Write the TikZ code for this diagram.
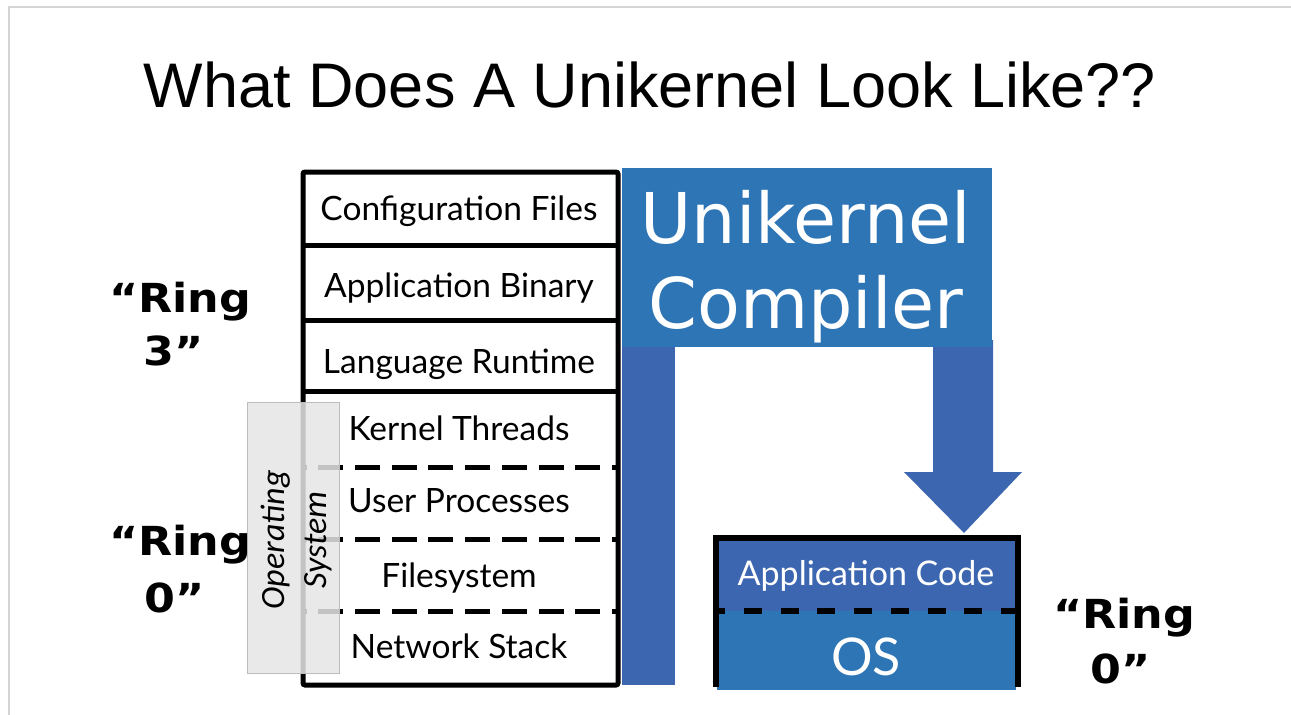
\documentclass[tikz,border=0pt]{standalone}
\usepackage{fontspec}
\setmainfont{Liberation Sans}
\newfontfamily\layerfont{Lato}
\newfontfamily\osfont{Carlito}
\newfontfamily\djv{DejaVu Sans}
\newfontfamily\ringfont[FakeStretch=1.11]{DejaVu Sans}
\definecolor{compblue}{HTML}{2E75B6}
\definecolor{barblue}{HTML}{3D66B0}
\definecolor{slideline}{HTML}{D4D4D4}
\definecolor{osgray}{HTML}{E6E6E6}
\definecolor{osedge}{HTML}{BDBDBD}

\tikzset{
  layer/.style={font=\layerfont\fontsize{33.5}{40}\selectfont, anchor=base, inner sep=0pt},
  ringtxt/.style={font=\ringfont\bfseries\fontsize{40}{48}\selectfont, anchor=base, inner sep=0pt},
  bigwhite/.style={font=\djv\fontsize{70}{84}\selectfont, text=white, anchor=base, inner sep=0pt},
  ostxt/.style={font=\osfont\itshape\fontsize{34}{40}\selectfont, rotate=90, anchor=base, inner sep=0pt},
  solidrule/.style={line width=5pt},
  dashrule/.style={line width=5pt, dash pattern=on 25pt off 11.7pt, dash phase=21.4pt},
}

\begin{document}
\begin{tikzpicture}[x=1pt,y=-1pt]
\useasboundingbox (0,0) rectangle (1291,715);
\fill[white] (0,0) rectangle (1291,715);

% slide frame
\draw[slideline, line width=1.5pt] (9,715) -- (9,7) -- (1291,7);

% title
\node[font=\fontsize{63}{75}\selectfont, anchor=base, inner sep=0pt] (title) at (650,107)
  {What Does A Unikernel Look Like??};

% compiler: input bar, box and output arrow
\fill[barblue] (622,340) rectangle (675,685);
\fill[barblue] (933,340) -- (993,340) -- (993,472) -- (1022,472) -- (964,533)
  -- (904,472) -- (933,472) -- cycle;
\fill[compblue] (622,168) rectangle (992,347);
\node[bigwhite] (unik) at (806,243) {Unikernel};
\node[bigwhite] (comp) at (806,328) {Compiler};

% traditional software stack
\fill[white] (303,172) rectangle (618,685);
\draw[dashrule] (303,467) -- (618,467);
\draw[dashrule] (303,539) -- (618,539);
\draw[dashrule] (303,611) -- (618,611);
\draw[solidrule] (303,245) -- (618,245);
\draw[solidrule] (303,320) -- (618,320);
\draw[solidrule] (303,391) -- (618,391);
\draw[solidrule, rounded corners=2pt] (303,172) rectangle (618,685);

\node[layer] (cfg) at (459,220) {Configuration Files};
\node[layer] (bin) at (459,297) {Application Binary};
\node[layer] (rt)  at (459,373) {Language Runtime};
\node[layer] (kt)  at (459,440) {Kernel Threads};
\node[layer] (up)  at (459,512) {User Processes};
\node[layer] (fs)  at (459,587) {Filesystem};
\node[layer] (ns)  at (459,658) {Network Stack};

% operating system bracket
\fill[osgray, fill opacity=0.85] (247,402) rectangle (339,673);
\draw[osedge, line width=1pt] (247,402) rectangle (339,673);
\node[ostxt] (op)  at (284,540) {Operating};
\node[ostxt] (sys) at (326,540) {System};

% unikernel image
\fill[barblue] (716,538) rectangle (1018,611);
\fill[compblue] (717,611) rectangle (1016,690);
\draw[line width=6pt, dash pattern=on 18pt off 18.7pt, dash phase=8.7pt] (716,611) -- (1018,611);
\draw[line width=6.5pt] (716,687) -- (716,538) -- (1018,538) -- (1018,687);
\node[font=\layerfont\fontsize{34}{40}\selectfont, text=white, anchor=base, inner sep=0pt]
  (app) at (866,585) {Application Code};
\node[font=\layerfont\fontsize{52}{60}\selectfont, text=white, anchor=base, inner sep=0pt]
  (os) at (866,675) {OS};

% privilege rings
\node[ringtxt] (r3a) at (180,312) {“Ring};
\node[ringtxt] (r3b) at (174,365) {3”};
\node[ringtxt] (r0a) at (180,555) {“Ring};
\node[ringtxt] (r0b) at (175,612) {0”};
\node[ringtxt] (r0c) at (1124,628) {“Ring};
\node[ringtxt] (r0d) at (1121,683) {0”};
\end{tikzpicture}
\end{document}
